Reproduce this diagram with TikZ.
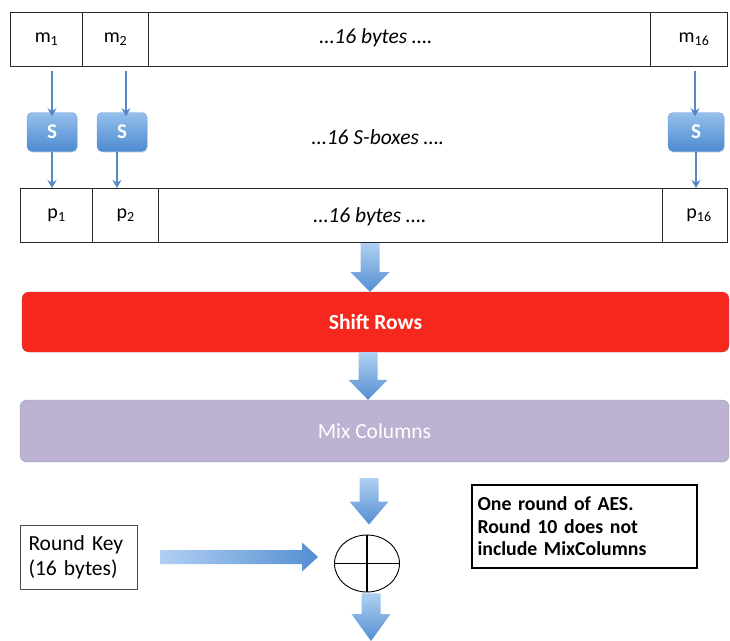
\documentclass[tikz,border=0pt]{standalone}
\usepackage{fontspec}
\setmainfont{Carlito}
\usetikzlibrary{calc,arrows.meta,shadows,shapes.geometric}

\definecolor{rowline}{RGB}{40,40,40}
\definecolor{sboxtop}{RGB}{150,192,236}
\definecolor{sboxbot}{RGB}{76,138,208}
\definecolor{thinblue}{RGB}{88,136,196}
\definecolor{fatlight}{RGB}{176,208,242}
\definecolor{fatdark}{RGB}{84,142,210}
\definecolor{shiftred}{RGB}{246,40,30}
\definecolor{shiftedge}{RGB}{190,70,70}
\definecolor{mixfill}{RGB}{189,178,209}
\definecolor{mixedge}{RGB}{140,155,190}

\tikzset{
  cell/.style={draw=rowline, line width=1.1pt, rectangle, anchor=north west,
    minimum height=54pt, inner sep=0pt, font=\fontsize{20}{22}\selectfont},
  dots/.style={font=\fontsize{21.5}{24}\selectfont\itshape},
  sbox/.style={rectangle, rounded corners=5pt, minimum width=50pt, minimum height=39pt,
    top color=sboxtop, bottom color=sboxbot, draw=sboxbot!80!white, line width=0.4pt,
    text=white, font=\fontsize{21}{23}\selectfont\bfseries,
    drop shadow={shadow xshift=0.8pt, shadow yshift=-1pt, opacity=0.25}},
  thinarrow/.style={draw=thinblue, line width=1.8pt, -{Stealth[length=8pt,width=9pt]}},
  band/.style={rectangle, rounded corners=7pt, minimum height=60pt, inner sep=0pt,
    text=white, font=\fontsize{21.5}{24}\selectfont},
  fatv/.style={top color=fatlight, bottom color=fatdark, draw=none},
  fath/.style={left color=fatlight, right color=fatdark, draw=none},
  plainbox/.style={draw=black!70, line width=1pt, rectangle, inner sep=0pt,
    font=\fontsize{21.5}{25}\selectfont, align=left},
  notebox/.style={draw=black, line width=1.8pt, rectangle, inner sep=0pt,
    font=\fontsize{19.8}{22.5}\selectfont\bfseries, align=left},
  xorring/.style={draw=black, line width=0.9pt, ellipse, minimum width=65pt,
    minimum height=57pt, inner sep=0pt},
}

% vertical fat arrow from the x of #2 at #2 down to #3; #1 is the head length
\newcommand\fatdown[3][20pt]{%
  \shade[fatv] let \p1=(#2), \p2=(#3) in
    (\x1-9.5pt,\y1) -- (\x1-9.5pt,\y2+#1) -- (\x1-19.5pt,\y2+#1) -- (\x1,\y2)
    -- (\x1+19.5pt,\y2+#1) -- (\x1+9.5pt,\y2+#1) -- (\x1+9.5pt,\y1) -- cycle;}

\begin{document}
\begin{tikzpicture}[x=1pt,y=-1pt]
\useasboundingbox (0,0) rectangle (730,640);

% input bytes
\node[cell, minimum width=72pt]  (m1)  at (10,12)  {m\textsubscript{1}};
\node[cell, minimum width=66pt]  (m2)  at (82,12)  {m\textsubscript{2}};
\node[cell, minimum width=502pt] (mdots) at (148,12) {};
\node[cell, minimum width=77pt]  (m16) at (650,12) {\hspace{10pt}m\textsubscript{16}};
\node[dots] at (376,38) {…16 bytes ….};

% S-boxes
\node[sbox] (s1)  at (52,132)  {S};
\node[sbox] (s2)  at (122,132) {S};
\node[sbox, minimum width=56pt] (s16) at (696,132) {S};
\node[dots] (sdots) at (378,137) {…16 S-boxes ….};

% output bytes
\node[cell, minimum width=72pt]  (p1)  at (20,188)  {p\textsubscript{1}};
\node[cell, minimum width=66pt]  (p2)  at (92,188)  {p\textsubscript{2}};
\node[cell, minimum width=504pt] (pdots) at (158,188) {};
\node[cell, minimum width=65pt]  (p16) at (662,188) {\hspace{8pt}p\textsubscript{16}};
\node[dots] at (370,217) {…16 bytes ….};

% byte -> S-box -> byte
\draw[thinarrow] ([yshift=-4pt]m1.south -| s1.north) -- ([yshift=-4pt]s1.north);
\draw[thinarrow] (s1.south) -- (s1.south |- p1.north);
\draw[thinarrow] ([xshift=4pt,yshift=-4pt]m2.south -| s2.north) -- ([xshift=4pt,yshift=-4pt]s2.north);
\draw[thinarrow] ([xshift=-5pt]s2.south) -- ([xshift=-5pt]s2.south |- p2.north);
\draw[thinarrow] ([xshift=-1pt,yshift=-4pt]m16.south -| s16.north) -- ([xshift=-1pt,yshift=-4pt]s16.north);
\draw[thinarrow] (s16.south) -- (s16.south |- p16.north);

% round layers
\node[band, fill=shiftred, draw=shiftedge, minimum width=707pt,
      font=\fontsize{21.5}{24}\selectfont\bfseries] (shift) at (375.5,322) {Shift Rows};
\node[band, fill=mixfill, draw=mixedge, minimum width=709pt, minimum height=62pt] (mix) at (374.5,431) {Mix Columns};

% key addition
\node[xorring] (xor) at (367,563.5) {};
\draw[line width=1.4pt] (xor.north) -- (xor.south) (xor.west) -- (xor.east);
\node[plainbox, minimum width=117pt, minimum height=64pt, text width=100pt] (key) at (78.5,557) {Round Key\\(16 bytes)};
\node[notebox, minimum width=225pt, minimum height=83pt, text width=214pt] (note) at (584.5,526.5)
  {One round of AES.\\Round 10 does not\\include MixColumns};
\coordinate (abovexor) at (369,478);
\coordinate (out) at (371,641);

% fat arrows
\fatdown{pdots.south -| 370,0}{370,292}
\fatdown{shift.south -| 368,0}{mix.north -| 368,0}
\fatdown[23pt]{abovexor}{[yshift=10pt]xor.north -| abovexor}
\fatdown[27pt]{[yshift=-1pt]xor.south -| out}{out}
\shade[fath] let \p1=([xshift=23pt]key.east), \p2=([xshift=-16pt]xor.west) in
  (\x1,\y1+7pt) -- (\x2-16pt,\y1+7pt) -- (\x2-16pt,\y1+14.5pt) -- (\x2,\y1)
  -- (\x2-16pt,\y1-14.5pt) -- (\x2-16pt,\y1-7pt) -- (\x1,\y1-7pt) -- cycle;
\end{tikzpicture}
\end{document}
